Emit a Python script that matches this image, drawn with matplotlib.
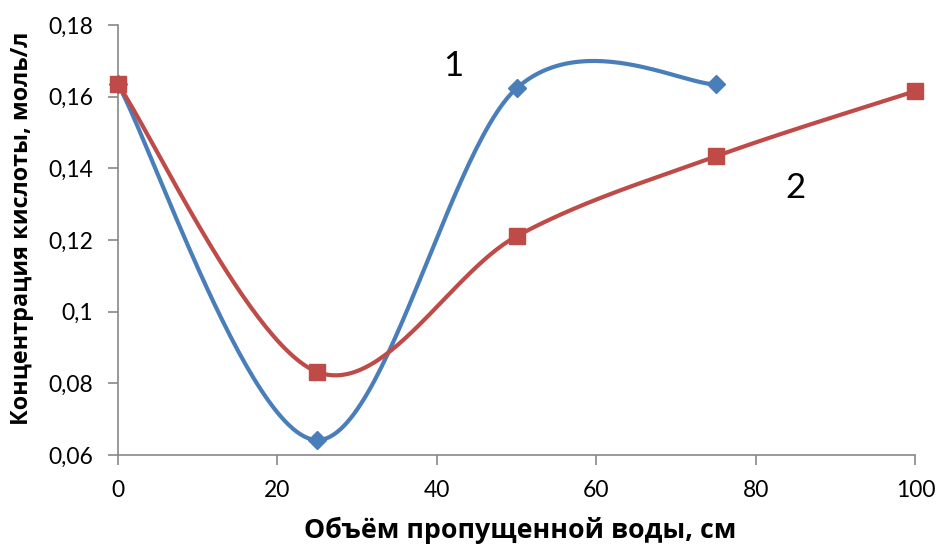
import numpy as np
import matplotlib
matplotlib.use("Agg")
import matplotlib.pyplot as plt
from matplotlib.ticker import FuncFormatter

plt.rcParams['font.family'] = ['Lato', 'DejaVu Sans']

# Data
x1 = [0, 25, 50, 75]
y1 = [0.1635, 0.0642, 0.1624, 0.1635]
x2 = [0, 25, 50, 75, 100]
y2 = [0.1635, 0.0832, 0.1211, 0.1434, 0.1616]
xticks = [0, 20, 40, 60, 80, 100]
yticks = [0.06, 0.08, 0.10, 0.12, 0.14, 0.16, 0.18]
xlabel = "Объём пропущенной воды, см"
ylabel = "Концентрация кислоты, моль/л"
labels = ["1", "2"]


def smooth(xs, ys, n=60):
    """Excel-like smoothed line (Catmull-Rom Bezier) through the points."""
    P = np.column_stack([xs, ys]).astype(float)
    out = []
    m = len(P)
    for i in range(m - 1):
        p0 = P[i - 1] if i > 0 else P[i]
        p1, p2 = P[i], P[i + 1]
        p3 = P[i + 2] if i + 2 < m else P[i + 1]
        c1 = p1 + (p2 - p0) / 6.0
        c2 = p2 - (p3 - p1) / 6.0
        t = np.linspace(0, 1, n)[:, None]
        seg = ((1 - t) ** 3) * p1 + 3 * ((1 - t) ** 2) * t * c1 + 3 * (1 - t) * t ** 2 * c2 + t ** 3 * p2
        out.append(seg if i == 0 else seg[1:])
    return np.vstack(out)

fig = plt.figure(figsize=(9.36, 5.47), dpi=100)
ax = fig.add_axes([0.126, 0.168, 0.852, 0.786])

blue = '#4A7EBB'
red = '#BE4B48'

s1 = smooth(x1, y1)
s2 = smooth(x2, y2)
ax.plot(s1[:, 0], s1[:, 1], color=blue, lw=3, solid_capstyle='round', zorder=3)
ax.plot(x1, y1, linestyle='none', marker='D', markersize=9, color=blue, zorder=4)
ax.plot(s2[:, 0], s2[:, 1], color=red, lw=3, solid_capstyle='round', zorder=3)
ax.plot(x2, y2, linestyle='none', marker='s', markersize=12, color=red, zorder=5)

ax.set_xlim(0, 100)
ax.set_ylim(0.06, 0.18)
ax.set_xticks(xticks)
ax.set_yticks(yticks)

def yfmt(v, pos):
    s = ('%.2f' % v).rstrip('0').rstrip('.')
    return s.replace('.', ',')

ax.yaxis.set_major_formatter(FuncFormatter(yfmt))
ax.xaxis.set_major_formatter(FuncFormatter(lambda v, p: '%d' % v))

for sp in ['top', 'right']:
    ax.spines[sp].set_visible(False)
for sp in ['left', 'bottom']:
    ax.spines[sp].set_color('#888888')
    ax.spines[sp].set_linewidth(1.2)
ax.tick_params(axis='both', colors='#888888', length=7, width=1.2, labelcolor='black', labelsize=16.5)
ax.tick_params(axis='x', pad=11)
ax.tick_params(axis='y', pad=11)

lab_font = ['Open Sans', 'DejaVu Sans']
ax.set_xlabel(xlabel, fontsize=19.3, fontweight='bold', family=lab_font, labelpad=11)
ax.set_ylabel(ylabel, fontsize=16.8, fontweight='bold', family=lab_font, labelpad=10)
ax.xaxis.label.set_x(0.504)
ax.yaxis.label.set_y(0.528)

ax.text(42.0, 0.1685, labels[0], fontsize=25, ha='center', va='center')
ax.text(85.0, 0.1345, labels[1], fontsize=25, ha='center', va='center')

for line in ax.lines:
    line.set_clip_on(False)

fig.savefig('out.png', dpi=100)
